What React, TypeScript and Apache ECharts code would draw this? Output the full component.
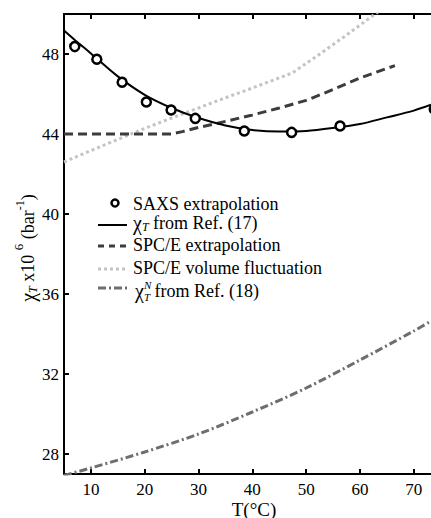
import React, { useEffect, useRef } from 'react';
import * as echarts from 'echarts';

const xTicks = [10, 20, 30, 40, 50, 60, 70];
const yTicks = [28, 32, 36, 40, 44, 48];

const saxsT = [7.0, 11.1, 15.8, 20.3, 24.9, 29.4, 38.5, 47.3, 56.3, 73.8];
const saxsChi = [48.37, 47.74, 46.59, 45.6, 45.2, 44.78, 44.15, 44.08, 44.4, 45.25];

const ref17T = [5, 7, 10, 15, 20, 25, 30, 35, 40, 45, 50, 55, 60, 65, 70, 73.2];
const ref17Chi = [49.17, 48.7, 48.03, 46.88, 45.96, 45.3, 44.8, 44.43, 44.2, 44.12, 44.15, 44.3, 44.5, 44.83, 45.17, 45.46];

const spceT = [5, 10, 15, 20, 25, 27, 30, 33, 40, 45, 50, 55, 60, 66.5];
const spceChi = [44, 44, 44, 44, 44, 44.12, 44.33, 44.5, 44.95, 45.3, 45.68, 46.22, 46.8, 47.42];

const volT = [5, 10, 15, 20, 25, 30, 34, 40, 47.4, 52, 57, 62.8, 66];
const volChi = [42.6, 43.17, 43.73, 44.28, 44.8, 45.3, 45.71, 46.3, 47.05, 47.9, 48.85, 50.0, 50.6];

const ref18T = [5, 10, 20, 30, 40, 50, 60, 70, 73.2];
const ref18Chi = [26.93, 27.3, 28.1, 29.0, 30.1, 31.3, 32.7, 34.15, 34.65];

const legendTexts = [
  'SAXS extrapolation',
  ' from Ref. (17)',
  'SPC/E extrapolation',
  'SPC/E volume fluctuation',
  ' from Ref. (18)',
];

const FONT = '"Liberation Serif", "Times New Roman", serif';

type Seg = { t: string; s: number; it?: boolean; dy?: number; noAdvance?: boolean };

function makeMeasurer() {
  const c = document.createElement('canvas');
  const ctx = c.getContext('2d')!;
  return (t: string, s: number, it?: boolean) => {
    ctx.font = `${it ? 'italic ' : ''}${s}px "Liberation Serif"`;
    return ctx.measureText(t).width;
  };
}

function layout(segs: Seg[], x0: number, y0: number, m: (t: string, s: number, it?: boolean) => number) {
  let x = x0;
  const els: any[] = [];
  segs.forEach((g) => {
    els.push({
      type: 'text',
      x,
      y: y0 + (g.dy || 0),
      silent: true,
      style: {
        text: g.t,
        fontSize: g.s,
        fontFamily: FONT,
        fontStyle: g.it ? 'italic' : 'normal',
        fill: '#000',
        align: 'left',
        verticalAlign: 'middle',
        textAlign: 'left',
        textVerticalAlign: 'middle',
      },
    });
    if (!g.noAdvance) x += m(g.t, g.s, g.it);
  });
  return { els, width: x - x0 };
}

function zip(a: number[], b: number[]) {
  return a.map((v, i) => [v, b[i]]);
}

export default function App() {
  const ref = useRef<HTMLDivElement>(null);
  useEffect(() => {
    if (!ref.current) return;
    const chart = echarts.init(ref.current, undefined, { renderer: 'svg' });
    const m = makeMeasurer();

    const ySegs: Seg[] = [
      { t: 'χ', s: 20 },
      { t: 'T', s: 12, it: true, dy: 5 },
      { t: ' x10 ', s: 18 },
      { t: '6', s: 13, dy: -10 },
      { t: ' (bar', s: 18 },
      { t: '-1', s: 12, dy: -8 },
      { t: ')', s: 18 },
    ];
    const yW = layout(ySegs, 0, 0, m).width;
    const yLab = layout(ySegs, -yW / 2, 0, m).els;

    const legX = 133;
    const rowY = [204, 223, 245, 268, 291];
    const row2 = layout(
      [
        { t: 'χ', s: 20 },
        { t: 'T', s: 12, it: true, dy: 4 },
        { t: legendTexts[1], s: 18 },
      ],
      legX,
      rowY[1],
      m
    ).els;
    const row5 = layout(
      [
        { t: 'χ', s: 20 },
        { t: 'N', s: 11, it: true, dy: -6, noAdvance: true },
        { t: 'T', s: 11, it: true, dy: 6 },
        { t: legendTexts[4], s: 18 },
      ],
      legX + 2,
      rowY[4],
      m
    ).els;
    const plain = (i: number) => ({
      type: 'text',
      x: legX,
      y: rowY[i],
      silent: true,
      style: {
        text: legendTexts[i],
        fontSize: 18,
        fontFamily: FONT,
        fill: '#000',
        align: 'left',
        verticalAlign: 'middle',
        textAlign: 'left',
        textVerticalAlign: 'middle',
      },
    });
    const sample = (i: number, stroke: string, width: number, dash: any, dy: number) => ({
      type: 'line',
      silent: true,
      shape: { x1: 98, y1: rowY[i] + dy, x2: 127, y2: rowY[i] + dy },
      style: { stroke, lineWidth: width, lineDash: dash },
    });

    const axisFont = { fontSize: 17, fontFamily: FONT, color: '#000' };

    chart.setOption({
      animation: false,
      backgroundColor: '#fff',
      grid: { left: 64, right: 0, top: 14, bottom: 44, containLabel: false, outerBoundsMode: 'none' },
      xAxis: [
        {
          type: 'value',
          min: 5,
          max: 73.2,
          position: 'bottom',
          axisLine: { show: true, onZero: false, lineStyle: { color: '#000', width: 2 } },
          axisTick: { show: true, inside: true, length: 5, lineStyle: { color: '#000', width: 2 }, customValues: xTicks },
          axisLabel: { ...axisFont, margin: 7, customValues: xTicks },
          splitLine: { show: false },
        },
        {
          type: 'value',
          min: 5,
          max: 73.2,
          position: 'top',
          axisLine: { show: true, onZero: false, lineStyle: { color: '#000', width: 2 } },
          axisTick: { show: true, inside: true, length: 5, lineStyle: { color: '#000', width: 2 }, customValues: xTicks },
          axisLabel: { show: false },
          splitLine: { show: false },
        },
      ],
      yAxis: {
        type: 'value',
        min: 27,
        max: 50,
        axisLine: { show: true, onZero: false, lineStyle: { color: '#000', width: 2 } },
        axisTick: { show: true, inside: true, length: 5, lineStyle: { color: '#000', width: 2 }, customValues: yTicks },
        axisLabel: { ...axisFont, margin: 5, customValues: yTicks },
        splitLine: { show: false },
      },
      series: [
        {
          name: 'SPC/E volume fluctuation',
          type: 'line',
          data: zip(volT, volChi),
          showSymbol: false,
          symbol: 'none',
          clip: true,
          lineStyle: { color: '#c4c4c4', width: 3, type: [3, 3] },
          z: 2,
        },
        {
          name: 'SPC/E extrapolation',
          type: 'line',
          data: zip(spceT, spceChi),
          showSymbol: false,
          symbol: 'none',
          clip: true,
          lineStyle: { color: '#3c3c3c', width: 3, type: [9, 5] },
          z: 3,
        },
        {
          name: 'χT from Ref. (18)',
          type: 'line',
          data: zip(ref18T, ref18Chi),
          showSymbol: false,
          symbol: 'none',
          smooth: 0.3,
          clip: true,
          lineStyle: { color: '#6e6e6e', width: 3, type: [8, 3, 2, 3] },
          z: 3,
        },
        {
          name: 'χT from Ref. (17)',
          type: 'line',
          data: zip(ref17T, ref17Chi),
          showSymbol: false,
          symbol: 'none',
          smooth: 0.3,
          clip: true,
          lineStyle: { color: '#000', width: 2 },
          z: 4,
        },
        {
          name: 'SAXS extrapolation',
          type: 'scatter',
          data: zip(saxsT, saxsChi),
          symbol: 'circle',
          symbolSize: 9,
          clip: false,
          itemStyle: { color: '#fff', borderColor: '#000', borderWidth: 2.5, opacity: 1 },
          z: 5,
        },
      ],
      graphic: [
        { type: 'group', x: 28, y: 248, rotation: Math.PI / 2, silent: true, children: yLab },
        {
          type: 'text',
          x: 254,
          y: 509,
          silent: true,
          style: {
            text: 'T(°C)',
            fontSize: 19,
            fontFamily: FONT,
            fill: '#000',
            align: 'center',
            verticalAlign: 'middle',
            textAlign: 'center',
            textVerticalAlign: 'middle',
          },
        },
        {
          type: 'circle',
          silent: true,
          shape: { cx: 115, cy: rowY[0] - 1, r: 3.5 },
          style: { fill: '#fff', stroke: '#000', lineWidth: 2.5 },
        },
        plain(0),
        sample(1, '#000', 2, null, 2),
        ...row2,
        sample(2, '#3c3c3c', 3, [6, 5], 1),
        plain(2),
        sample(3, '#c4c4c4', 3, [3, 3], 1),
        plain(3),
        sample(4, '#6e6e6e', 3, [8, 3, 2, 3], -3),
        ...row5,
      ],
    });
    return () => chart.dispose();
  }, []);
  return (
    <div style={{ position: 'fixed', left: 0, top: 0, width: 431, height: 518, overflow: 'hidden', background: '#fff' }}>
      <div ref={ref} style={{ width: 431, height: 518 }} />
    </div>
  );
}
